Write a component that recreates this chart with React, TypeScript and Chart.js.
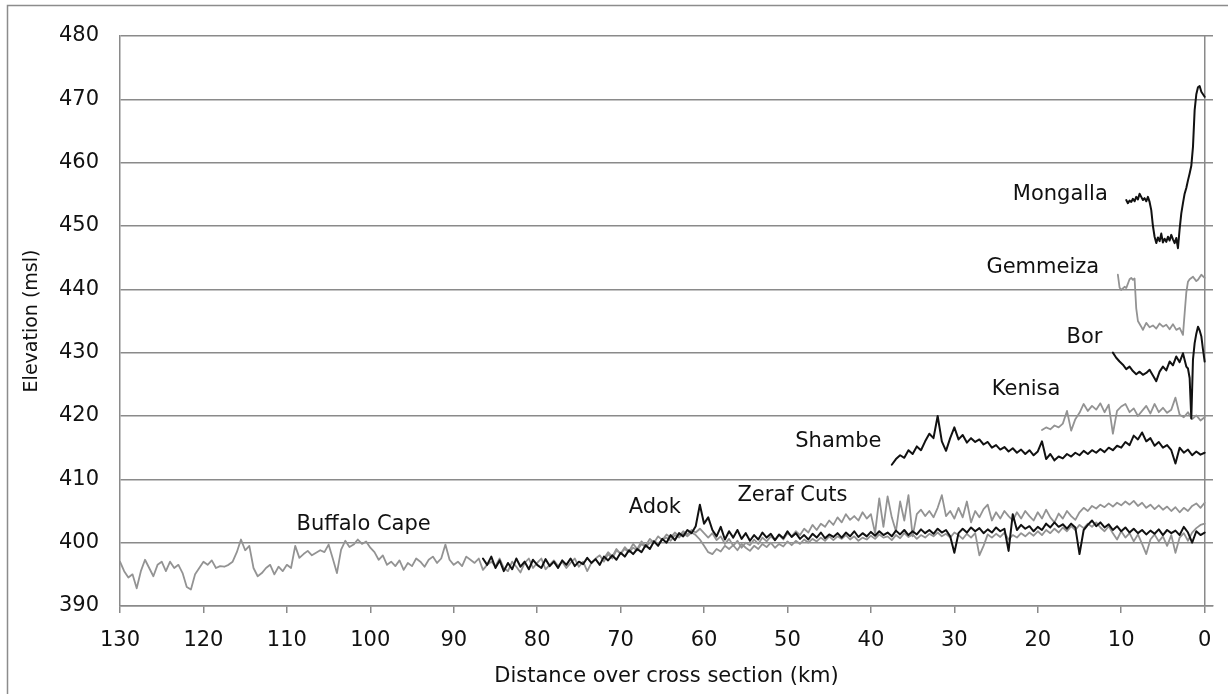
import React, { useEffect, useRef } from "react";
import { Chart, registerables } from "chart.js";

Chart.register(...registerables);

const FONT = '"DejaVu Sans", "Liberation Sans", sans-serif';
const GRID = "#8a8a8a";
const BLACK = "#111111";
const GRAY = "#939393";

// X-axis tick labels (km, reversed axis) and Y-axis range
const xTickValues = [130, 120, 110, 100, 90, 80, 70, 60, 50, 40, 30, 20, 10, 0];
const yMin = 390;
const yMax = 480;
const yStep = 10;

// ---- Series: Buffalo Cape (gray), 130 km -> 0 km every 0.5 km
const buffaloStart = 130;
const buffaloStep = 0.5;
const buffaloElev = [
  397.0, 395.5, 394.5, 395.0, 392.8, 395.5, 397.3, 396.0, 394.7, 396.5,
  397.0, 395.5, 397.0, 396.0, 396.5, 395.2, 393.0, 392.6, 395.0, 396.0,
  397.0, 396.5, 397.2, 396.0, 396.3, 396.2, 396.5, 397.0, 398.5, 400.5,
  398.8, 399.5, 396.0, 394.7, 395.2, 396.0, 396.5, 395.0, 396.2, 395.5,
  396.5, 396.0, 399.5, 397.6, 398.2, 398.7, 398.0, 398.4, 398.8, 398.5,
  399.7, 397.5, 395.2, 398.9, 400.3, 399.3, 399.7, 400.5, 399.8, 400.2,
  399.2, 398.5, 397.3, 398.0, 396.5, 397.0, 396.3, 397.2, 395.7, 396.8,
  396.3, 397.5, 397.0, 396.2, 397.3, 397.8, 396.8, 397.5, 399.7, 397.3,
  396.5, 397.0, 396.3, 397.8, 397.3, 396.8, 397.5, 395.7, 396.5, 397.0,
  396.3, 397.5, 396.0, 395.5, 397.0, 396.2, 395.3, 396.8, 397.5, 396.0,
  396.8, 397.5, 395.8, 396.5, 397.2, 396.3, 397.0, 396.0, 396.8, 397.5,
  396.2, 397.0, 395.5, 396.8, 397.5, 398.0, 397.0, 398.2, 397.5, 398.8,
  398.3, 399.0, 398.5, 399.2, 398.8, 399.8, 399.3, 400.0, 400.3, 399.8,
  400.5, 400.8, 400.3, 401.2, 400.8, 401.5, 401.0, 401.6, 401.2, 400.5,
  399.5, 398.5, 398.2, 399.0, 398.6, 399.5, 399.0, 399.6, 398.8, 399.8,
  399.2, 398.7, 399.5, 399.0, 399.8, 399.3, 400.0, 399.2, 399.8, 399.4,
  400.2, 399.6, 400.3, 399.8, 400.5, 400.0, 400.6, 400.2, 400.8, 400.3,
  401.0, 400.4, 401.0, 400.6, 401.2, 400.5, 401.0, 400.3, 400.8, 400.5,
  401.1, 400.6, 401.3, 400.8, 401.0, 400.4, 401.2, 400.7, 401.5, 400.9,
  401.3, 400.6, 401.2, 400.8, 401.4, 401.0, 401.6, 401.0, 401.4, 400.8,
  401.6, 401.2, 400.6, 401.4, 400.8, 401.5, 398.0, 399.5, 401.3, 400.8,
  401.4, 400.9, 401.6, 400.5, 401.2, 400.8, 401.5, 401.0, 401.6, 401.1,
  401.8, 401.2, 402.0, 401.5, 402.2, 401.6, 402.4, 401.8, 402.6, 402.0,
  402.8, 402.3, 403.0, 402.5, 403.2, 402.4, 401.8, 402.6, 401.5, 400.5,
  401.8, 400.8, 401.5, 400.2, 401.3, 399.8, 398.2, 400.5, 401.3, 400.2,
  401.0, 399.5, 401.2, 398.4, 400.8, 401.5, 400.3, 401.6, 402.3, 402.8,
  403.0,
];

// ---- Series: Adok (black), 86.5 km -> 0 km every 0.5 km
const adokStart = 86.5;
const adokStep = 0.5;
const adokElev = [
  397.5, 396.5, 397.8, 396.0, 397.2, 395.5, 396.8, 395.8, 397.5, 396.2,
  397.0, 395.8, 397.3, 396.5, 396.0, 397.4, 396.3, 397.0, 396.0, 397.2,
  396.5, 397.5, 396.3, 397.0, 396.6, 397.6, 396.8, 397.4, 396.5, 397.8,
  397.2, 398.0, 397.3, 398.4, 397.8, 398.8, 398.2, 399.0, 398.5, 399.6,
  399.0, 400.2, 399.5, 400.6, 400.0, 401.2, 400.4, 401.5, 401.0, 402.0,
  401.5, 402.6, 406.0, 403.0, 404.0, 402.0, 401.0, 402.5, 400.5, 401.8,
  400.8, 402.0, 400.6, 401.5, 400.3, 401.2, 400.5, 401.6, 400.8, 401.4,
  400.4, 401.3, 400.7, 401.8, 400.9, 401.5, 400.6, 401.2, 400.5, 401.4,
  400.8, 401.6, 400.7, 401.3, 400.9, 401.5, 400.8, 401.6, 401.0, 401.8,
  400.9, 401.5, 401.0, 401.7, 401.1, 401.8, 401.2, 401.6, 401.0, 401.9,
  401.3, 402.0, 401.2, 401.8, 401.3, 402.1, 401.5, 402.0, 401.4, 402.2,
  401.6, 402.0, 401.0, 398.4, 401.5, 402.2, 401.6, 402.4, 401.8, 402.3,
  401.5, 402.1, 401.6, 402.4, 401.8, 402.2, 398.7, 404.5, 402.0, 402.8,
  402.2, 402.6, 401.8, 402.5, 402.0, 403.0, 402.4, 403.2, 402.5, 402.9,
  402.2, 403.0, 402.4, 398.2, 402.0, 402.8, 403.5, 402.6, 403.2, 402.4,
  402.9, 402.0, 402.6, 401.8, 402.4, 401.6, 402.2, 401.5, 402.0, 401.3,
  401.9, 401.4, 402.1, 401.2, 402.0, 401.5, 401.9, 401.2, 402.5, 401.6,
  400.0, 401.8, 401.2, 401.6,
];

// ---- Series: Zeraf Cuts (gray), 72 km -> 0 km every 0.5 km
const zerafStart = 72;
const zerafStep = 0.5;
const zerafElev = [
  397.5, 398.5, 397.8, 399.0, 398.2, 399.3, 398.6, 399.8, 399.0, 400.2,
  399.5, 400.6, 400.0, 401.0, 400.4, 401.3, 400.8, 401.6, 401.0, 401.8,
  401.3, 402.0, 401.6, 402.2, 401.5, 400.8, 401.5, 400.4, 401.0, 399.8,
  400.6, 399.5, 400.3, 399.2, 400.0, 399.6, 400.5, 399.8, 400.8, 400.2,
  401.0, 400.4, 401.2, 400.5, 401.5, 401.0, 401.8, 401.2, 402.2, 401.6,
  402.8, 402.0, 403.0, 402.5, 403.5, 402.8, 404.0, 403.2, 404.5, 403.6,
  404.2, 403.5, 404.8, 403.8, 404.5, 401.5, 407.0, 402.5, 407.3, 404.0,
  401.8, 406.5, 403.5, 407.5, 401.0, 404.5, 405.2, 404.2, 405.0, 404.0,
  405.5, 407.5, 404.2, 405.0, 403.8, 405.5, 404.0, 406.5, 403.2, 405.0,
  404.0, 405.3, 406.0, 403.5, 404.8, 403.8, 405.0, 404.2, 403.5, 404.8,
  403.8, 405.0, 404.2, 403.5, 404.8, 403.8, 405.2, 404.0, 403.2, 404.6,
  403.8, 405.0, 404.2, 403.6, 404.8, 405.5, 405.0, 405.8, 405.4, 406.0,
  405.6, 406.2, 405.7, 406.3, 405.9, 406.5, 406.0, 406.6, 405.8, 406.3,
  405.5, 406.0, 405.3, 405.9, 405.2, 405.7, 405.0, 405.6, 404.8, 405.5,
  405.0, 405.8, 406.2, 405.5, 406.3,
];

// ---- Series: Shambe (black), 37.5 km -> 0 km every 0.5 km
const shambeStart = 37.5;
const shambeStep = 0.5;
const shambeElev = [
  412.3, 413.2, 413.8, 413.4, 414.6, 414.0, 415.2, 414.6, 416.0, 417.2,
  416.5, 420.0, 416.0, 414.5, 416.5, 418.2, 416.3, 417.0, 415.8, 416.5,
  415.9, 416.3, 415.5, 415.9, 415.0, 415.4, 414.7, 415.1, 414.4, 414.9,
  414.2, 414.7, 414.0, 414.6, 413.8, 414.4, 416.0, 413.2, 414.0, 413.0,
  413.6, 413.3, 414.0, 413.6, 414.2, 413.8, 414.5, 414.0, 414.6, 414.2,
  414.8, 414.3, 415.0, 414.6, 415.3, 415.0, 415.9, 415.4, 416.9, 416.3,
  417.4, 416.0, 416.5, 415.3, 415.9, 415.0, 415.4, 414.6, 412.5, 415.0,
  414.2, 414.7, 413.8, 414.4, 413.9, 414.2,
];

// ---- Series: Kenisa (gray), 19.5 km -> 0 km every 0.5 km
const kenisaStart = 19.5;
const kenisaStep = 0.5;
const kenisaElev = [
  417.8, 418.2, 417.9, 418.5, 418.2, 418.8, 420.8, 417.7, 419.5, 420.5,
  421.9, 420.8, 421.6, 421.0, 422.0, 420.6, 421.8, 417.2, 420.8, 421.5,
  421.9, 420.6, 421.2, 420.0, 420.8, 421.6, 420.4, 421.9, 420.6, 421.3,
  420.5, 421.0, 422.9, 420.2, 419.8, 420.6, 419.5, 420.1, 419.3, 419.8,
];

// ---- Series: Bor (black)
const borKm = [
  11.0, 10.6, 10.2, 9.8, 9.4, 9.0, 8.6, 8.2, 7.8, 7.4, 7.0, 6.6, 6.2, 5.8, 5.4, 5.0, 4.6,
  4.2, 3.8, 3.4, 3.0, 2.6, 2.2, 2.0, 1.8, 1.6, 1.4, 1.2, 1.0, 0.8, 0.6, 0.4, 0.2, 0.0,
];
const borElev = [
  430.0, 429.2, 428.6, 428.1, 427.4, 427.8, 427.1, 426.6, 427.0, 426.5, 426.8, 427.3, 426.4,
  425.5, 427.0, 427.8, 427.2, 428.6, 428.0, 429.4, 428.5, 429.9, 427.8, 427.5, 426.0, 419.6,
  428.9, 431.5, 433.0, 434.1, 433.5, 432.6, 430.5, 428.6,
];

// ---- Series: Gemmeiza (gray)
const gemmeizaKm = [
  10.4, 10.2, 10.0, 9.6, 9.4, 9.0, 8.8, 8.6, 8.4, 8.2, 8.0, 7.6, 7.4, 7.0, 6.6, 6.2, 5.8,
  5.4, 5.0, 4.6, 4.2, 3.8, 3.4, 3.0, 2.6, 2.4, 2.2, 2.0, 1.8, 1.4, 1.0, 0.8, 0.4, 0.0,
];
const gemmeizaElev = [
  442.3, 440.3, 439.9, 440.4, 440.2, 441.6, 441.8, 441.5, 441.7, 437.0, 435.0, 434.1, 433.6,
  434.7, 434.0, 434.3, 433.8, 434.6, 434.1, 434.4, 433.7, 434.5, 433.6, 433.9, 432.8, 436.2,
  439.5, 441.2, 441.6, 442.0, 441.3, 441.5, 442.3, 441.8,
];

// ---- Series: Mongalla (black), 9.4 km -> 0 km every 0.2 km
const mongallaStart = 9.4;
const mongallaStep = 0.2;
const mongallaElev = [
  454.1, 453.6, 454.0, 453.8, 454.3, 453.9, 454.6, 454.2, 455.1, 454.6,
  454.1, 454.4, 453.9, 454.6, 453.8, 452.5, 450.0, 448.3, 447.3, 448.2,
  447.6, 448.8, 447.4, 448.0, 447.5, 448.3, 447.7, 448.6, 447.9, 447.3,
  448.1, 446.5, 449.5, 452.0, 453.6, 455.1, 456.0, 457.2, 458.3, 459.5,
  462.5, 468.3, 470.8, 471.9, 472.1, 471.2, 470.8, 470.4,
];

// ---- In-chart series labels (anchored in data coordinates: km, elevation)
const labelNames = ["Mongalla", "Gemmeiza", "Bor", "Kenisa", "Shambe", "Zeraf Cuts", "Adok", "Buffalo Cape"];
const labelKm = [17.3, 19.4, 14.4, 21.4, 43.9, 49.4, 65.9, 100.8];
const labelElev = [454.9, 443.5, 432.4, 424.1, 416.0, 407.4, 405.5, 402.9];

function stepped(start: number, step: number, values: number[]) {
  return values.map((v, i) => ({ x: Math.round((start - i * step) * 1000) / 1000, y: v }));
}
function paired(km: number[], values: number[]) {
  return values.map((v, i) => ({ x: km[i], y: v }));
}

function line(label: string, data: { x: number; y: number }[], color: string, width: number) {
  return {
    label,
    data,
    borderColor: color,
    backgroundColor: color,
    borderWidth: width,
    pointRadius: 0,
    pointHoverRadius: 0,
    tension: 0,
    fill: false,
    borderJoinStyle: "round" as const,
    borderCapStyle: "round" as const,
  };
}

const framePlugin = {
  id: "frame",
  beforeDraw(chart: any) {
    const ctx = chart.ctx;
    ctx.save();
    ctx.fillStyle = "#ffffff";
    ctx.fillRect(0, 0, chart.width, chart.height);
    ctx.strokeStyle = "#8c8c8c";
    ctx.lineWidth = 1.5;
    ctx.beginPath();
    ctx.moveTo(7.5, chart.height + 2);
    ctx.lineTo(7.5, 5.5);
    ctx.lineTo(chart.width + 2, 5.5);
    ctx.stroke();
    ctx.restore();
  },
};

const labelPlugin = {
  id: "seriesLabels",
  afterDatasetsDraw(chart: any) {
    const ctx = chart.ctx;
    const xs = chart.scales.x;
    const ys = chart.scales.y;
    ctx.save();
    ctx.font = `21px ${FONT}`;
    ctx.fillStyle = BLACK;
    ctx.textAlign = "center";
    ctx.textBaseline = "middle";
    labelNames.forEach((name, i) => {
      ctx.fillText(name, xs.getPixelForValue(labelKm[i]), ys.getPixelForValue(labelElev[i]));
    });
    ctx.restore();
  },
};

export default function App() {
  const ref = useRef<HTMLCanvasElement>(null);

  useEffect(() => {
    document.body.style.margin = "0";
    const canvas = ref.current;
    if (!canvas) return;
    const chart = new Chart(canvas, {
      type: "line",
      data: {
        datasets: [
          line("Mongalla", stepped(mongallaStart, mongallaStep, mongallaElev), BLACK, 2),
          line("Bor", paired(borKm, borElev), BLACK, 2),
          line("Shambe", stepped(shambeStart, shambeStep, shambeElev), BLACK, 2),
          line("Adok", stepped(adokStart, adokStep, adokElev), BLACK, 2),
          line("Gemmeiza", paired(gemmeizaKm, gemmeizaElev), GRAY, 1.8),
          line("Kenisa", stepped(kenisaStart, kenisaStep, kenisaElev), GRAY, 1.8),
          line("Zeraf Cuts", stepped(zerafStart, zerafStep, zerafElev), GRAY, 1.8),
          line("Buffalo Cape", stepped(buffaloStart, buffaloStep, buffaloElev), GRAY, 1.8),
        ],
      },
      options: {
        animation: false,
        responsive: false,
        devicePixelRatio: 1,
        parsing: false as any,
        normalized: true,
        events: [],
        layout: { padding: { left: 0, top: 36, right: 15, bottom: 0 } },
        plugins: {
          legend: { display: false },
          tooltip: { enabled: false },
        },
        scales: {
          x: {
            type: "linear",
            reverse: true,
            min: -1,
            max: 130,
            afterBuildTicks: (scale: any) => {
              scale.ticks = xTickValues.map((v) => ({ value: v }));
            },
            afterFit: (scale: any) => {
              scale.height = 88;
            },
            ticks: {
              autoSkip: false,
              maxRotation: 0,
              minRotation: 0,
              padding: 15,
              color: BLACK,
              font: { family: FONT, size: 21 },
              callback: (v: any) => String(v),
            },
            grid: {
              color: (c: any) => (c.tick && c.tick.value === 0 ? GRID : "rgba(0,0,0,0)"),
              tickColor: GRID,
              tickLength: 7,
              lineWidth: 1.5,
            },
            border: { display: true, color: GRID, width: 1.5 },
            title: {
              display: true,
              text: "Distance over cross section (km)",
              color: BLACK,
              font: { family: FONT, size: 21 },
              padding: { top: 0, bottom: 5 },
            },
          },
          y: {
            type: "linear",
            min: yMin,
            max: yMax,
            afterFit: (scale: any) => {
              scale.width = 120;
            },
            ticks: {
              stepSize: yStep,
              padding: 21,
              color: BLACK,
              font: { family: FONT, size: 21 },
            },
            grid: { color: GRID, drawTicks: false, lineWidth: 1.5 },
            border: { display: true, color: GRID, width: 1.5 },
            title: {
              display: true,
              text: "Elevation (msl)",
              color: BLACK,
              font: { family: FONT, size: 19 },
              padding: { top: 21, bottom: 0 },
            },
          },
        },
      },
      plugins: [framePlugin, labelPlugin],
    });
    return () => chart.destroy();
  }, []);

  return (
    <div style={{ width: 1228, height: 694 }}>
      <canvas ref={ref} width={1228} height={694} style={{ display: "block" }} />
    </div>
  );
}
